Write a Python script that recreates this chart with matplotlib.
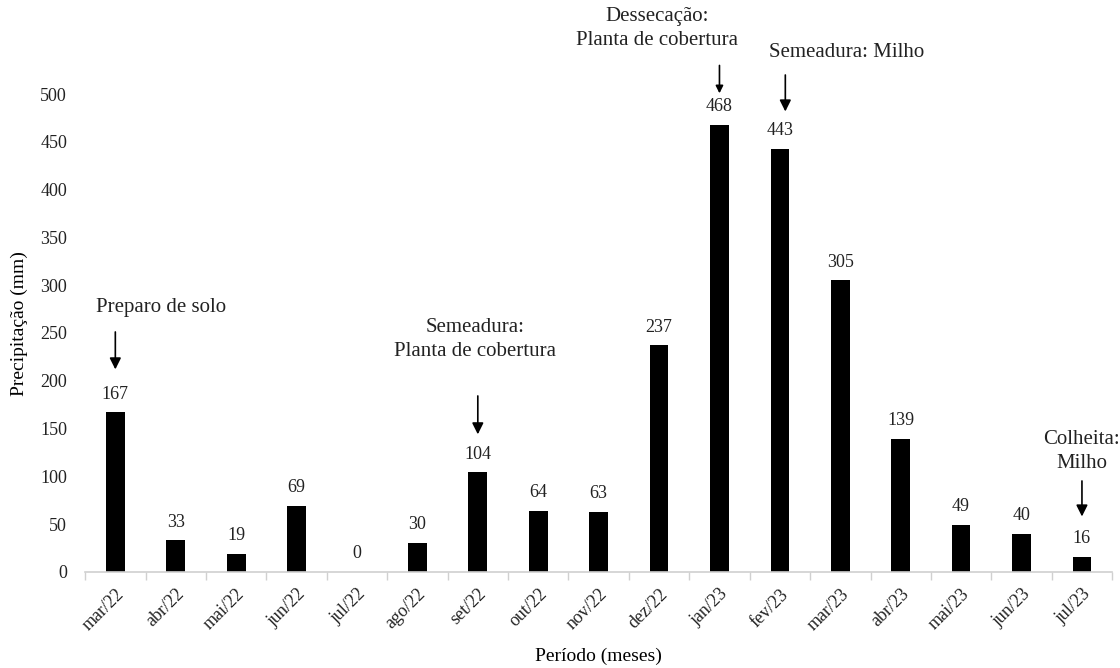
import matplotlib.pyplot as plt
import numpy as np

meses = ['mar/22', 'abr/22', 'mai/22', 'jun/22', 'jul/22', 'ago/22', 'set/22', 'out/22',
         'nov/22', 'dez/22', 'jan/23', 'fev/23', 'mar/23', 'abr/23', 'mai/23', 'jun/23', 'jul/23']
precip = [167, 33, 19, 69, 0, 30, 104, 64, 63, 237, 468, 443, 305, 139, 49, 40, 16]

plt.rcParams['font.family'] = ['Liberation Serif', 'DejaVu Serif']

fig = plt.figure(figsize=(11.2, 6.68), dpi=100)
ax = fig.add_axes([0.076, 0.144, 0.917, 0.715])

x = np.arange(len(meses))
ax.bar(x, precip, width=0.31, color='black')

# rótulos de valor
for xi, v in zip(x, precip):
    ax.annotate(str(v), (xi, v), xytext=(0, 7), textcoords='offset points',
                ha='center', va='bottom', fontsize=13, color='#222222')

ax.set_xlim(-0.5, len(meses) - 0.5)
ax.set_ylim(0, 500)
ax.set_yticks(range(0, 501, 50))
ax.set_xticks(x)
ax.set_xticklabels(meses, rotation=45, ha='right', rotation_mode='anchor', fontsize=13)
ax.set_xticks(np.arange(-0.5, len(meses)), minor=True)
ax.tick_params(axis='x', which='major', length=0, pad=10, colors='#222222')
ax.tick_params(axis='x', which='minor', length=6, color='#d0d0d0', width=1)
ax.tick_params(axis='y', length=0, labelsize=13, pad=13, colors='#222222')

for s in ['top', 'right', 'left']:
    ax.spines[s].set_visible(False)
ax.spines['bottom'].set_color('#d0d0d0')
ax.spines['bottom'].set_linewidth(1.2)

ax.set_ylabel('Precipitação (mm)', fontsize=14)
ax.set_xlabel('Período (meses)', fontsize=14)
ax.yaxis.set_label_coords(-0.056, 0.52)
ax.xaxis.set_label_coords(0.5, -0.158)

# anotações de manejo
eventos = [
    ('Preparo de solo', 0.75, 277, 0, 254, 209, 17),
    ('Semeadura:\nPlanta de cobertura', 5.96, 243, 6, 187, 141, 17),
    ('Dessecação:\nPlanta de cobertura', 8.96, 569, 10, 533, 498, 11),
    ('Semeadura: Milho', 12.1, 544, 11.09, 523, 479, 17),
    ('Colheita:\nMilho', 16, 126, 16, 98, 55, 17),
]
for txt, tx, ty, ax_x, y0, y1, ms in eventos:
    ax.text(tx, ty, txt, ha='center', va='center', fontsize=15, linespacing=1.35,
            clip_on=False, color='#222222')
    ax.annotate('', xy=(ax_x, y1), xytext=(ax_x, y0),
                arrowprops=dict(arrowstyle='-|>', color='black', lw=1.2, mutation_scale=ms),
                annotation_clip=False)

fig.savefig('out.png', dpi=100)
